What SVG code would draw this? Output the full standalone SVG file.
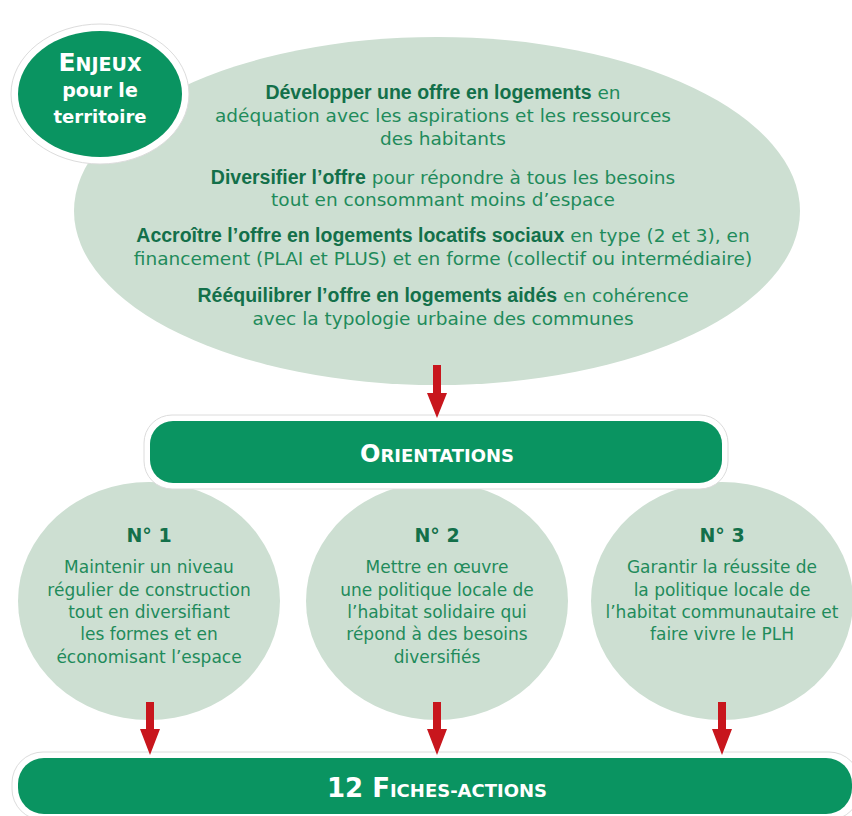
<svg xmlns="http://www.w3.org/2000/svg" width="852" height="816" viewBox="0 0 852 816">
<style>
.lt{fill:#cddfd2}
.dg{fill:#0a9461}
.ring{fill:#ffffff;stroke:#dcdcdc;stroke-width:1}
.t{font-family:"DejaVu Sans","Liberation Sans",sans-serif;text-anchor:middle}
.reg{fill:#1f8b5b;font-size:18.5px}
.b{font-family:"Liberation Sans","DejaVu Sans",sans-serif;font-weight:bold;fill:#13704a;font-size:19.5px}
.ct{fill:#1f8b5b;font-size:17px}
.hd{fill:#13704a;font-size:19px;font-weight:bold}
.wh{fill:#ffffff;font-weight:bold}
.arr{fill:#c8161d}
</style>
<rect width="852" height="816" fill="#ffffff"/>
<g id="enjeux-list">
<ellipse class="lt" cx="437" cy="211" rx="363" ry="174"/>
<text class="t reg" x="443" y="99"><tspan class="b">Développer une offre en logements</tspan> en</text>
<text class="t reg" x="443" y="122">adéquation avec les aspirations et les ressources</text>
<text class="t reg" x="443" y="145">des habitants</text>
<text class="t reg" x="443" y="184"><tspan class="b">Diversifier l’offre</tspan> pour répondre à tous les besoins</text>
<text class="t reg" x="443" y="206">tout en consommant moins d’espace</text>
<text class="t reg" x="443" y="242"><tspan class="b">Accroître l’offre en logements locatifs sociaux</tspan> en type (2 et 3), en</text>
<text class="t reg" x="443" y="265">financement (PLAI et PLUS) et en forme (collectif ou intermédiaire)</text>
<text class="t reg" x="443" y="302"><tspan class="b">Rééquilibrer l’offre en logements aidés</tspan> en cohérence</text>
<text class="t reg" x="443" y="325">avec la typologie urbaine des communes</text>
</g>
<g id="enjeux-title">
<ellipse class="ring" cx="100" cy="94" rx="89" ry="70"/>
<ellipse class="dg" cx="100" cy="94" rx="82" ry="63"/>
<text class="t wh" x="100" y="71"><tspan font-size="25">E</tspan><tspan font-size="19">NJEUX</tspan></text>
<text class="t wh" x="100" y="97" font-size="19">pour le</text>
<text class="t wh" x="100" y="123" font-size="18">territoire</text>
</g>
<g id="orientation-1">
<ellipse class="lt" cx="149" cy="601" rx="131" ry="119"/>
<text class="t hd" x="149" y="542">N° 1</text>
<text class="t ct" x="149" y="573">Maintenir un niveau</text>
<text class="t ct" x="149" y="596">régulier de construction</text>
<text class="t ct" x="149" y="618">tout en diversifiant</text>
<text class="t ct" x="149" y="640">les formes et en</text>
<text class="t ct" x="149" y="663">économisant l’espace</text>
</g>
<g id="orientation-2">
<ellipse class="lt" cx="437" cy="601" rx="131" ry="119"/>
<text class="t hd" x="437" y="542">N° 2</text>
<text class="t ct" x="437" y="573">Mettre en œuvre</text>
<text class="t ct" x="437" y="596">une politique locale de</text>
<text class="t ct" x="437" y="618">l’habitat solidaire qui</text>
<text class="t ct" x="437" y="640">répond à des besoins</text>
<text class="t ct" x="437" y="663">diversifiés</text>
</g>
<g id="orientation-3">
<ellipse class="lt" cx="722" cy="601" rx="131" ry="119"/>
<text class="t hd" x="722" y="542">N° 3</text>
<text class="t ct" x="722" y="573">Garantir la réussite de</text>
<text class="t ct" x="722" y="596">la politique locale de</text>
<text class="t ct" x="722" y="618">l’habitat communautaire et</text>
<text class="t ct" x="722" y="640">faire vivre le PLH</text>
</g>
<g id="orientations">
<rect class="ring" x="144" y="415" width="584" height="74" rx="28"/>
<rect class="dg" x="150" y="421" width="572" height="62" rx="23"/>
<text class="t wh" x="437" y="462"><tspan font-size="24">O</tspan><tspan font-size="18">RIENTATIONS</tspan></text>
</g>
<g id="fiches-actions">
<rect class="ring" x="12" y="752" width="848" height="68" rx="31"/>
<rect class="dg" x="18" y="758" width="834" height="56" rx="26"/>
<text class="t wh" x="437" y="797"><tspan font-size="26">12 F</tspan><tspan font-size="18">ICHES-ACTIONS</tspan></text>
</g>
<g id="connectors">
<polygon class="arr" points="433,365 441,365 441,393 447,393 437,418 427,393 433,393"/>
<polygon class="arr" points="146,702 154,702 154,729 160,729 150,755 140,729 146,729"/>
<polygon class="arr" points="433,702 441,702 441,729 447,729 437,755 427,729 433,729"/>
<polygon class="arr" points="718,702 726,702 726,729 732,729 722,755 712,729 718,729"/>
</g>
</svg>
